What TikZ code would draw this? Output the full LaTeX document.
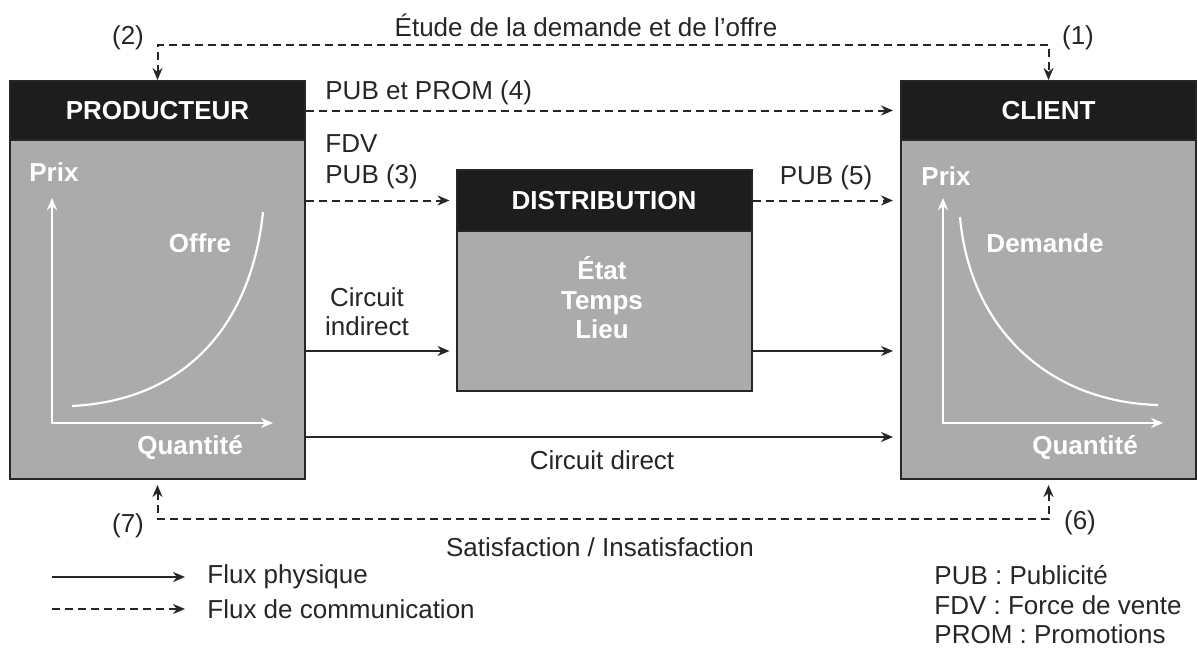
\documentclass[tikz,border=0pt]{standalone}
\usepackage{fontspec}
\setmainfont{Liberation Sans}
\usetikzlibrary{calc}
\usetikzlibrary{arrows.meta}
\definecolor{boxgrey}{HTML}{ABABAB}
\definecolor{headblack}{HTML}{1D1D1D}
\definecolor{ink}{HTML}{262626}
\tikzset{
  head/.style={draw=ink, fill=headblack, text=white, line width=1pt, inner sep=0pt,
    minimum width=147.5pt, minimum height=29.5pt, font=\fontsize{13}{15}\selectfont\bfseries},
  body/.style={draw=ink, fill=boxgrey, line width=1pt, inner sep=0pt, minimum width=147.5pt},
  lbl/.style={text=ink, inner sep=1pt, font=\fontsize{13}{15}\selectfont},
  wlbl/.style={text=white, inner sep=1pt, font=\fontsize{13}{15}\selectfont\bfseries},
  flux/.style={draw=ink, line width=1pt, -{Stealth[length=6pt,width=5pt]}},
  comm/.style={flux, dash pattern=on 4pt off 2.5pt},
  comm2/.style={comm, {Stealth[length=6pt,width=5pt]}-{Stealth[length=6pt,width=5pt]}},
  axe/.style={white, line width=1.1pt, {Stealth[length=6pt,width=5pt]}-{Stealth[length=6pt,width=5pt]}},
}
\begin{document}
\begin{tikzpicture}[x=0.5pt, y=-0.5pt]
\useasboundingbox (0,0) rectangle (1198,648);

% boites
\node[body, minimum height=169.5pt] (prod) at (157.5,309.5) {};
\node[head] (prodhead) at (157.5,110.5) {PRODUCTEUR};
\node[body, minimum height=169.5pt] (client) at (1048.5,309.5) {};
\node[head] (clienthead) at (1048.5,110.5) {CLIENT};
\node[body, minimum height=80pt] (dist) at (604,311) {};
\node[head, minimum height=30.5pt] (disthead) at (604,200.5) {DISTRIBUTION};

% offre
\draw[axe] (52,198) -- (52,423) -- (273,423);
\draw[white, line width=1.1pt] (72,406) .. controls (190,400) and (252,320) .. (263,212);
\node[wlbl, anchor=west] (prodprix) at (27,172) {Prix};
\node[wlbl] (offre) at (200,243) {Offre};
\node[wlbl] (prodqte) at (190,448) {Quantité};

% demande
\draw[axe] (943,198) -- (943,423) -- (1163,423);
\draw[white, line width=1.1pt] (960,217) .. controls (970,330) and (1050,402) .. (1158,405);
\node[wlbl, anchor=west] (clientprix) at (919,176) {Prix};
\node[wlbl] (demande) at (1045,243) {Demande};
\node[wlbl] (clientqte) at (1085,448) {Quantité};

\node[wlbl, align=center, font=\fontsize{13}{14.75}\selectfont\bfseries] (utilites) at (602,298) {État\\Temps\\Lieu};

% flux de communication
\draw[comm2] (prodhead.north) -- ++(0,-35) -| (clienthead.north);
\node[lbl] (etude) at (586,25) {Étude de la demande et de l'offre};
\node[lbl] (n2) at (128,38) {(2)};
\node[lbl] (n1) at (1078,38) {(1)};

\draw[comm, shorten >=3.5pt] (prodhead.east) -- (clienthead.west);
\node[lbl, anchor=west] (pubprom) at (323,93) {PUB et PROM (4)};

\draw[comm, shorten >=3pt] (prod.east |- disthead.west) -- (disthead.west);
\node[lbl, anchor=west, align=left, font=\fontsize{13}{15.5}\selectfont] (fdvpub) at (323,162) {FDV\\PUB (3)};

\draw[comm, shorten >=3.5pt] (disthead.east) -- (client.west |- disthead.east);
\node[lbl] (pub5) at (826,178) {PUB (5)};

\draw[comm2, shorten <=2.5pt, shorten >=2.5pt] (prod.south) -- ++(0,39) -| (client.south);
\node[lbl] (satis) at (600,547) {Satisfaction / Insatisfaction};
\node[lbl] (n7) at (128,526) {(7)};
\node[lbl] (n6) at (1080,523) {(6)};

% flux physiques
\coordinate (ci) at (0,351);
\coordinate (cd) at (0,437);
\draw[flux, shorten >=3pt] (prod.east |- ci) -- (dist.west |- ci);
\draw[flux, shorten >=3.5pt] (dist.east |- ci) -- (client.west |- ci);
\node[lbl, align=center, font=\fontsize{13}{14.5}\selectfont] (cind) at (367,312) {Circuit\\indirect};
\draw[flux, shorten >=3.5pt] (prod.east |- cd) -- (client.west |- cd);
\node[lbl] (cdir) at (602,460) {Circuit direct};

% legende
\coordinate (lg1) at (52,577);
\coordinate (lg2) at (52,609);
\node[lbl, anchor=west] (fphys) at (205,577) {Flux physique};
\node[lbl, anchor=west] (fcomm) at (205,609) {Flux de communication};
\draw[flux] (lg1) -- (fphys.west -| 185,0);
\draw[comm] (lg2) -- (fcomm.west -| 185,0);
\node[lbl, anchor=west, align=left, font=\fontsize{13}{14.75}\selectfont] (abrev) at (932,605) {PUB : Publicité\\FDV : Force de vente\\PROM : Promotions};
\end{tikzpicture}
\end{document}
